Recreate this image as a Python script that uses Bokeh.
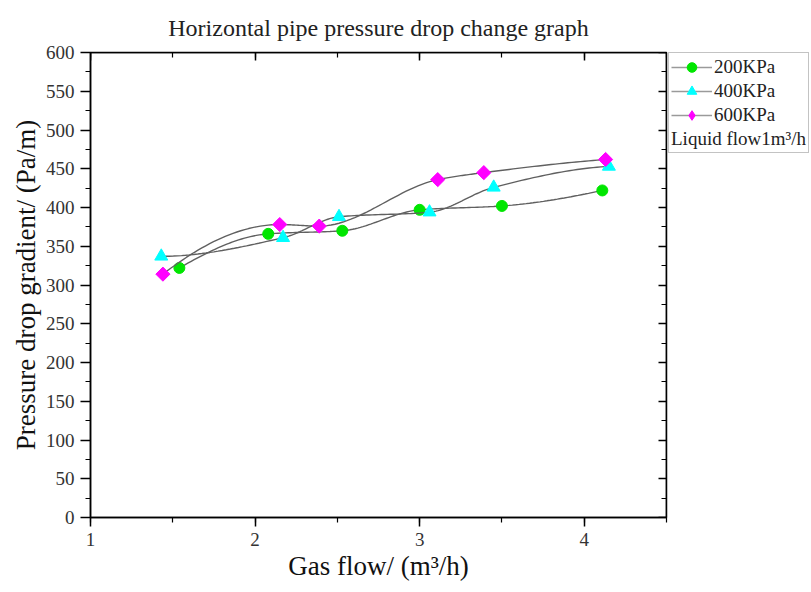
import numpy as np
from bokeh.plotting import figure
from bokeh.layouts import row
from bokeh.models import (Range1d, LinearAxis, SingleIntervalTicker, Legend, LegendItem,
                          CustomJSTickFormatter)
from bokeh.embed import file_html
from bokeh.resources import INLINE

# ---- data ----
gas_200 = [1.54, 2.08, 2.53, 3.00, 3.50, 4.11]
dp_200 = [322, 366, 370, 397, 402, 422]
gas_400 = [1.43, 2.17, 2.51, 3.06, 3.45, 4.15]
dp_400 = [337, 361, 388, 394, 426, 453]
gas_600 = [1.44, 2.15, 2.39, 3.11, 3.39, 4.13]
dp_600 = [314, 378, 376, 436, 445, 462]
series_names = ["200KPa", "400KPa", "600KPa"]
note_text = "Liquid flow1m\u00b3/h"

FONT = "Liberation Serif"


def pchip_curve(x, y, n=30):
    """Smooth connecting curve (shape-preserving cubic) through the data points."""
    x = np.asarray(x, float)
    y = np.asarray(y, float)
    h = np.diff(x)
    d = np.diff(y) / h
    m = np.zeros_like(y)
    for k in range(1, len(x) - 1):
        if d[k - 1] * d[k] <= 0:
            m[k] = 0.0
        else:
            w1 = 2 * h[k] + h[k - 1]
            w2 = h[k] + 2 * h[k - 1]
            m[k] = (w1 + w2) / (w1 / d[k - 1] + w2 / d[k])

    def end(h0, h1, d0, d1):
        s = ((2 * h0 + h1) * d0 - h0 * d1) / (h0 + h1)
        if np.sign(s) != np.sign(d0):
            s = 0.0
        elif np.sign(d0) != np.sign(d1) and abs(s) > abs(3 * d0):
            s = 3 * d0
        return s

    m[0] = end(h[0], h[1], d[0], d[1])
    m[-1] = end(h[-1], h[-2], d[-1], d[-2])
    xs, ys = [], []
    for k in range(len(x) - 1):
        t = np.linspace(0, 1, n, endpoint=(k == len(x) - 2))
        h00 = 2 * t**3 - 3 * t**2 + 1
        h10 = t**3 - 2 * t**2 + t
        h01 = -2 * t**3 + 3 * t**2
        h11 = t**3 - t**2
        xs.append(x[k] + t * h[k])
        ys.append(h00 * y[k] + h10 * h[k] * m[k] + h01 * y[k + 1] + h11 * h[k] * m[k + 1])
    return np.concatenate(xs), np.concatenate(ys)


X_MIN, X_MAX, Y_MIN, Y_MAX = 1, 4.5, 0, 600

p = figure(width=668, height=592,
           x_range=Range1d(X_MIN, X_MAX), y_range=Range1d(Y_MIN, Y_MAX),
           output_backend="svg", toolbar_location=None,
           min_border_left=90, min_border_top=52, min_border_bottom=75,
           min_border_right=2)

p.title.text = "Horizontal pipe pressure drop change graph"
p.title.text_font = FONT
p.title.text_font_size = "24px"
p.title.text_font_style = "normal"
p.title.text_color = "#222222"
p.title.align = "center"
p.title.standoff = 23

p.grid.visible = False
p.outline_line_color = "black"
p.outline_line_width = 1.5
p.background_fill_color = "white"
p.border_fill_color = "white"

p.xaxis.ticker = SingleIntervalTicker(interval=1, num_minor_ticks=2)
p.yaxis.ticker = SingleIntervalTicker(interval=50, num_minor_ticks=2)
for ax in (p.xaxis[0], p.yaxis[0]):
    ax.axis_line_width = 1.5
    ax.major_tick_line_width = 1.5
    ax.minor_tick_line_width = 1.2
    ax.major_tick_out = 9
    ax.major_tick_in = 0
    ax.minor_tick_out = 5
    ax.minor_tick_in = 0
    ax.major_label_text_font = FONT
    ax.major_label_text_font_size = "19px"
    ax.major_label_text_color = "#333333"
    ax.axis_label_text_font = FONT
    ax.axis_label_text_font_size = "27px"
    ax.axis_label_text_font_style = "normal"
    ax.axis_label_text_color = "#111111"

p.xaxis.axis_label = "Gas flow/ (m\u00b3/h)"
p.xaxis.major_label_standoff = 6
p.xaxis.axis_label_standoff = 2
p.yaxis.major_tick_out = 10
p.yaxis.axis_label = "Pressure drop gradient/ (Pa/m)"
p.yaxis.major_label_standoff = 6
p.yaxis.axis_label_standoff = 2

# mirrored axes on the frame edges with inward ticks and no labels
blank = CustomJSTickFormatter(code="return ''")
axis_kw = dict(formatter=blank, major_tick_out=0, major_tick_in=8,
               minor_tick_out=0, minor_tick_in=5, major_label_standoff=0,
               axis_line_width=1.5, major_tick_line_width=1.5, minor_tick_line_width=1.2)
top = LinearAxis(ticker=SingleIntervalTicker(interval=1, num_minor_ticks=2),
                 fixed_location=Y_MAX, **axis_kw)
right = LinearAxis(ticker=SingleIntervalTicker(interval=50, num_minor_ticks=2),
                   fixed_location=X_MAX, **axis_kw)
p.add_layout(top, "above")
p.add_layout(right, "right")

colors = ["#00e600", "#00ffff", "#ff00ff"]
markers = ["circle", "triangle", "square"]
legend_markers = ["circle", "triangle", "diamond"]
sizes = [11, 13, 10]
angles = [0, 0, np.pi / 4]
xs_all = [gas_200, gas_400, gas_600]
ys_all = [dp_200, dp_400, dp_600]

# legend panel: a narrow companion figure holding only the legend.
# Its ranges exclude the data, so its proxy glyphs only show as legend samples.
leg = figure(width=143, height=592, x_range=Range1d(-2, -1), y_range=Range1d(-2, -1),
             output_backend="svg", toolbar_location=None,
             x_axis_location=None, y_axis_location=None,
             min_border=0, min_border_top=52, outline_line_color=None)
leg.grid.visible = False

items = []
for name, gx, gy, c, mk, lmk, sz, ang in zip(series_names, xs_all, ys_all, colors,
                                             markers, legend_markers, sizes, angles):
    cx, cy = pchip_curve(gx, gy)
    p.line(cx, cy, line_color="#606060", line_width=1.4)
    p.scatter(gx, gy, marker=mk, size=sz, angle=ang, fill_color=c, line_color=c)
    lg_ln = leg.line(x=gx, y=gy, line_color="#9a9a9a", line_width=1.4)
    lg_sc = leg.scatter(x=gx, y=gy, marker=lmk, size=sz, fill_color=c, line_color=c)
    items.append(LegendItem(label=name, renderers=[lg_ln, lg_sc]))

legend = Legend(items=items, location="top_left", margin=0, padding=2,
                glyph_width=41, glyph_height=24, label_standoff=2,
                label_height=20, spacing=0,
                label_text_font=FONT, label_text_font_size="19px", label_text_color="#222222",
                border_line_color="#888888", border_line_width=1.2,
                background_fill_color="white",
                title=note_text, title_text_font=FONT, title_text_font_size="19px",
                title_text_font_style="normal", title_text_color="#222222", title_standoff=1)
if "title_location" in Legend.properties():
    legend.title_location = "below"
leg.add_layout(legend)

layout = row(p, leg)
open("out.html", "w").write(file_html(layout, INLINE))
